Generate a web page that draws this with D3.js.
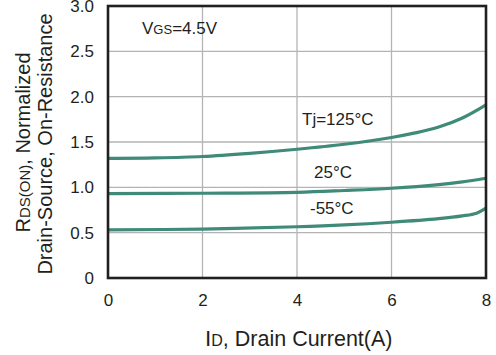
<!DOCTYPE html>
<html>
<head>
<meta charset="utf-8">
<script src="https://cdn.jsdelivr.net/npm/d3@7"></script>
<style>
  html, body { margin: 0; padding: 0; background: #fff; }
  svg { display: block; font-family: "Liberation Sans", Arial, Helvetica, sans-serif; }
</style>
</head>
<body>
<svg id="chart" width="496" height="355"></svg>
<script>
// Drain current (A) sample points and normalized on-resistance per junction temperature
const currentT125 = [0, 1, 2, 3, 4, 5, 6, 6.5, 7, 7.5, 8];
const rdsT125     = [1.32, 1.325, 1.34, 1.375, 1.42, 1.475, 1.55, 1.60, 1.665, 1.765, 1.91];
const currentT25  = [0, 2, 4, 5, 6, 7, 7.5, 8];
const rdsT25      = [0.93, 0.935, 0.945, 0.965, 0.99, 1.03, 1.06, 1.10];
const currentTm55 = [0, 2, 4, 5, 6, 7, 7.5, 7.8, 8];
const rdsTm55     = [0.53, 0.54, 0.565, 0.585, 0.615, 0.655, 0.685, 0.715, 0.77];

const xTicks = [0, 2, 4, 6, 8];
const xTickLabels = ["0", "2", "4", "6", "8"];
const yTicks = [0, 0.5, 1.0, 1.5, 2.0, 2.5, 3.0];
const yTickLabels = ["0", "0.5", "1.0", "1.5", "2.0", "2.5", "3.0"];

const ink = "#231f20";
const curveColor = "#3f8a78";
const gridColor = "#b4b4b4";

const svg = d3.select("#chart");
const plot = { left: 108, right: 486, top: 6, bottom: 278 };

const x = d3.scaleLinear().domain([0, 8]).range([plot.left, plot.right]);
const y = d3.scaleLinear().domain([0, 3]).range([plot.bottom, plot.top]);

// grid
const grid = svg.append("g");
grid.selectAll("line.gx").data(xTicks.slice(1, -1)).enter().append("line")
  .attr("x1", d => x(d)).attr("x2", d => x(d))
  .attr("y1", plot.top).attr("y2", plot.bottom)
  .attr("stroke", gridColor).attr("stroke-width", 1.3);
grid.selectAll("line.gy").data(yTicks.slice(1, -1)).enter().append("line")
  .attr("x1", plot.left).attr("x2", plot.right)
  .attr("y1", d => y(d)).attr("y2", d => y(d))
  .attr("stroke", gridColor).attr("stroke-width", 1.3);

// curves
const line = d3.line().x(d => x(d[0])).y(d => y(d[1])).curve(d3.curveCatmullRom.alpha(0.5));
const series = [
  d3.zip(currentT125, rdsT125),
  d3.zip(currentT25, rdsT25),
  d3.zip(currentTm55, rdsTm55)
];
svg.append("g").selectAll("path").data(series).enter().append("path")
  .attr("d", line)
  .attr("fill", "none")
  .attr("stroke", curveColor)
  .attr("stroke-width", 3.2)
  .attr("stroke-linecap", "butt");

// frame
svg.append("rect")
  .attr("x", plot.left).attr("y", plot.top)
  .attr("width", plot.right - plot.left).attr("height", plot.bottom - plot.top)
  .attr("fill", "none").attr("stroke", ink).attr("stroke-width", 2.6);

// axes (labels only)
const xAxis = d3.axisBottom(x).tickValues(xTicks)
  .tickFormat((d, i) => xTickLabels[i]).tickSize(0).tickPadding(16);
const gx = svg.append("g").attr("transform", `translate(0,${plot.bottom})`).call(xAxis);
const yAxis = d3.axisLeft(y).tickValues(yTicks)
  .tickFormat((d, i) => yTickLabels[i]).tickSize(0).tickPadding(14);
const gy = svg.append("g").attr("transform", `translate(${plot.left},0)`).call(yAxis);
[gx, gy].forEach(g => {
  g.select(".domain").remove();
  g.selectAll("text").attr("fill", ink).style("font-size", "17px")
    .style("font-family", "'Liberation Sans', Arial, sans-serif");
});

// annotations
function label(xp, yp, parts) {
  const t = svg.append("text").attr("x", xp).attr("y", yp).attr("fill", ink);
  parts.forEach(p => t.append("tspan").text(p[0]).style("font-size", p[1] + "px"));
  return t;
}
label(142, 34, [["V", 17], ["GS", 13], ["=4.5V", 17]]);
label(302, 125, [["Tj=125°C", 17]]);
label(314, 178, [["25°C", 17]]);
label(310, 214, [["-55°C", 17]]);

// axis titles
label(205, 346, [["I", 22.5], ["D", 16], [", Drain Current(A)", 21.5]]);

const yt1 = svg.append("text")
  .attr("transform", "translate(30,142.5) rotate(-90)")
  .attr("text-anchor", "middle").attr("fill", ink);
yt1.append("tspan").text("R").style("font-size", "20px");
yt1.append("tspan").text("DS(ON)").style("font-size", "15px");
yt1.append("tspan").text(", Normalized").style("font-size", "20px");

svg.append("text")
  .attr("transform", "translate(52,144) rotate(-90)")
  .attr("text-anchor", "middle").attr("fill", ink).style("font-size", "20px")
  .text("Drain-Source, On-Resistance");
</script>
</body>
</html>
